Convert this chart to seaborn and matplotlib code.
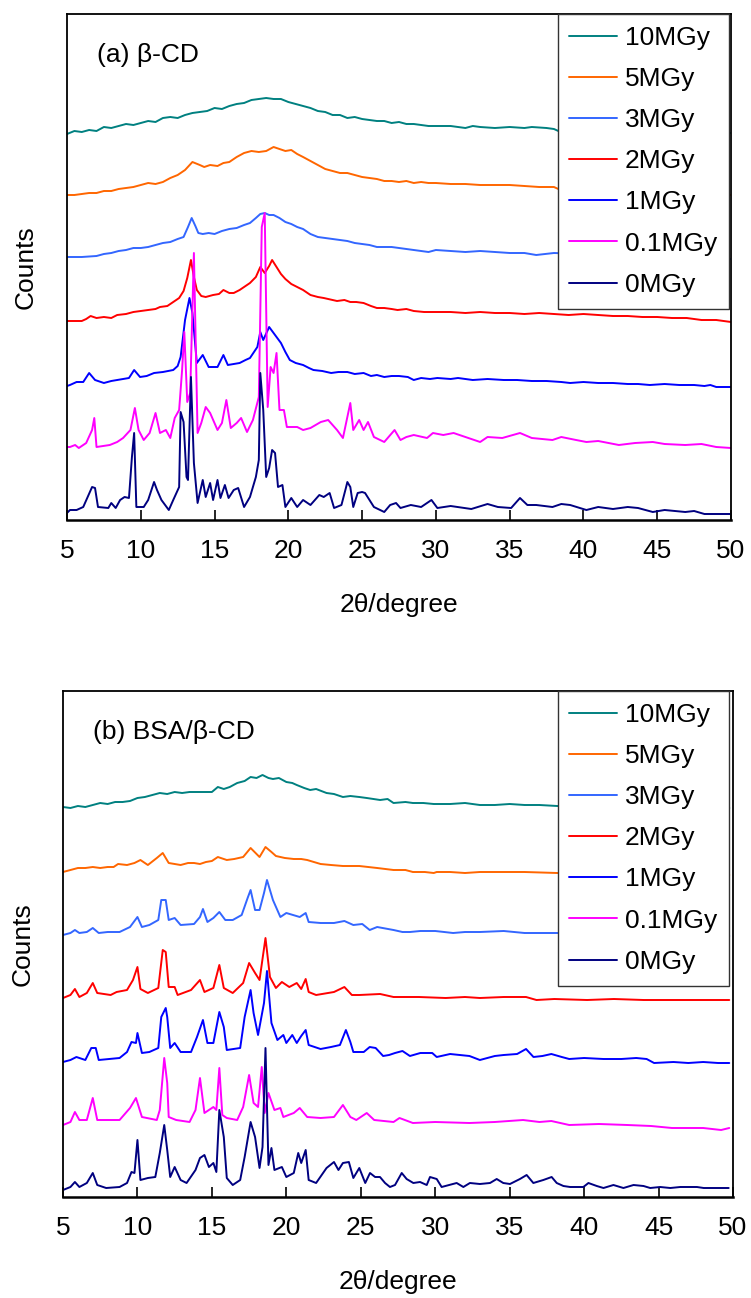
import numpy as np
import pandas as pd
import seaborn as sns
import matplotlib.pyplot as plt

sns.set_style('white')
plt.rcParams['font.family'] = ['Liberation Sans', 'DejaVu Sans']
plt.rcParams['text.color'] = 'black'
plt.rcParams['axes.labelcolor'] = 'black'
plt.rcParams['xtick.color'] = 'black'

doses = ['10MGy', '5MGy', '3MGy', '2MGy', '1MGy', '0.1MGy', '0MGy']
colors = ['#008080', '#FF6600', '#3366FF', '#FF0000', '#0000FF', '#FF00FF', '#000080']

# stacking offsets (same units as counts)
offsets_a = [385, 322, 258, 196, 132, 70, 5]
offsets_b = [388, 322, 258, 196, 132, 66, 5]

# ---- (a) beta-CD : (2theta, counts) ----
a_10 = [(5.0,1),(5.5,4),(6.0,3),(6.5,5),(7.0,4),(7.5,8),(8.0,7),(8.5,9),(9.0,11),(9.5,10),(10.0,12),(10.5,14),(11.0,13),(11.5,17),(12.0,18),(12.5,17),(13.0,20),(13.5,22),(14.0,23),(14.5,24),(15.0,27),(15.5,26),(16.0,29),(16.5,31),(17.0,32),(17.5,35),(18.0,36),(18.5,37),(19.0,36),(19.5,36),(20.0,33),(20.5,31),(21.0,29),(21.5,27),(22.0,24),(22.5,23),(23.0,20),(23.5,20),(24.0,17),(24.5,18),(25.0,16),(25.5,15),(26.0,14),(26.5,14),(27.0,12),(27.5,13),(28.0,11),(28.5,11),(29.0,10),(29.5,9),(30.0,9),(31.0,9),(32.0,7),(32.5,9),(33.0,8),(34.0,7),(35.0,8),(36.0,7),(36.5,8),(37.5,7),(38.0,6),(38.3,4),(38.6,6),(40.0,5),(42.0,4),(44.0,3),(46.0,3),(48.0,2),(50.0,2)]
a_5 = [(5.0,3),(5.5,3),(6.0,4),(6.5,5),(7.0,5),(7.5,7),(8.0,7),(8.5,9),(9.0,10),(9.5,11),(10.0,13),(10.5,15),(11.0,14),(11.5,16),(12.0,20),(12.5,23),(13.0,28),(13.5,36),(14.0,33),(14.3,31),(14.7,33),(15.2,32),(15.6,35),(16.0,36),(16.5,41),(17.0,45),(17.5,47),(18.0,46),(18.5,47),(19.0,51),(19.4,49),(19.8,47),(20.2,48),(20.6,44),(21.0,41),(21.5,37),(22.0,33),(22.5,29),(23.0,27),(23.5,25),(24.0,25),(24.5,23),(25.0,21),(25.5,20),(26.0,19),(26.5,17),(27.0,17),(27.5,16),(28.0,17),(28.5,15),(29.0,16),(29.5,15),(30.0,15),(31.0,14),(32.0,14),(33.0,13),(34.0,13),(35.0,13),(36.0,12),(37.0,11),(38.0,11),(38.3,9),(40.0,9),(42.0,8),(44.0,7),(46.0,6),(48.0,5),(50.0,3)]
a_3 = [(5.0,5),(6.0,5),(7.0,6),(7.5,8),(8.0,9),(8.5,11),(9.0,12),(9.5,14),(10.0,14),(10.5,15),(11.0,17),(11.5,19),(12.0,20),(12.5,23),(12.9,25),(13.2,35),(13.45,44),(13.7,36),(13.9,29),(14.2,28),(14.6,29),(15.0,28),(15.5,31),(16.0,33),(16.5,34),(17.0,37),(17.4,39),(17.8,44),(18.1,48),(18.4,49),(18.7,47),(19.0,47),(19.4,44),(19.8,40),(20.2,38),(20.6,35),(21.0,33),(21.5,28),(22.0,25),(22.5,24),(23.0,23),(23.5,22),(24.0,21),(24.5,19),(25.0,18),(25.5,17),(26.0,15),(26.5,15),(27.0,15),(27.5,14),(28.0,13),(28.5,12),(29.0,11),(29.5,10),(30.0,12),(31.0,11),(32.0,10),(33.0,11),(34.0,10),(35.0,9),(36.0,9),(36.8,7),(38.0,9),(40.0,8),(42.0,7),(44.0,6),(46.0,5),(48.0,4),(50.0,3)]
a_2 = [(5.0,3),(6.0,3),(6.3,5),(6.6,8),(7.0,6),(7.5,7),(8.0,6),(8.4,9),(9.0,10),(9.5,12),(10.0,13),(10.5,14),(11.0,15),(11.3,17),(11.8,18),(12.2,22),(12.6,26),(12.9,33),(13.15,46),(13.4,64),(13.6,47),(13.8,34),(14.1,28),(14.4,27),(14.9,29),(15.3,30),(15.6,34),(16.0,31),(16.3,31),(16.7,34),(17.0,37),(17.4,41),(17.8,47),(18.1,57),(18.4,51),(18.7,58),(18.9,64),(19.2,57),(19.5,50),(19.8,45),(20.2,40),(20.6,37),(21.0,34),(21.5,29),(22.0,27),(22.4,26),(23.0,24),(23.3,23),(23.8,24),(24.2,22),(24.6,22),(25.1,21),(25.6,18),(26.0,16),(26.5,16),(27.0,15),(27.4,14),(28.0,15),(28.5,13),(29.2,12),(30.0,12),(31.0,12),(32.0,11),(33.0,12),(34.0,11),(35.0,11),(36.0,10),(37.0,11),(38.0,10),(39.0,9),(40.0,10),(41.0,9),(42.0,8),(43.0,8),(44.0,7),(45.0,7),(46.0,6),(47.0,6),(48.0,4),(49.0,4),(50.0,2)]
a_1 = [(5.0,2),(5.2,3),(5.65,6),(6.1,6),(6.5,15),(6.9,8),(7.5,5),(8.0,7),(8.4,8),(9.2,10),(9.55,18),(9.95,11),(10.4,12),(10.9,15),(11.5,16),(12.2,18),(12.5,22),(12.7,31),(13.0,68),(13.3,90),(13.5,75),(13.8,25),(14.2,33),(14.6,21),(15.2,21),(15.6,33),(15.9,23),(16.3,24),(16.7,25),(17.1,28),(17.4,30),(17.9,41),(18.1,56),(18.3,48),(18.7,61),(19.0,55),(19.5,45),(19.8,36),(20.1,28),(20.5,25),(21.0,23),(21.4,20),(21.7,18),(22.3,17),(22.9,15),(23.4,16),(24.0,16),(24.5,14),(25.1,15),(25.6,12),(26.0,13),(26.5,11),(27.0,12),(27.5,12),(28.1,11),(28.5,8),(29.0,10),(29.6,9),(30.1,10),(31.0,9),(31.5,10),(32.5,8),(33.5,9),(34.6,8),(35.5,8),(36.5,7),(37.5,7),(38.5,6),(39.1,5),(40.0,6),(41.0,5),(42.0,5),(43.0,4),(43.7,4),(44.5,3),(45.5,4),(46.5,3),(47.5,3),(48.2,2),(48.6,3),(49.0,1),(50.0,1)]
a_01 = [(5.0,3),(5.2,3),(5.55,5),(5.8,2),(6.3,7),(6.7,20),(6.85,32),(7.0,3),(7.9,5),(8.4,8),(8.8,12),(9.3,20),(9.6,42),(9.85,20),(10.2,10),(10.6,17),(11.0,37),(11.3,17),(11.7,20),(12.0,12),(12.3,32),(12.6,40),(12.8,80),(12.95,118),(13.15,48),(13.35,57),(13.6,197),(13.75,87),(13.85,17),(14.1,27),(14.4,43),(14.7,37),(15.2,20),(15.5,27),(15.8,50),(16.1,22),(16.5,27),(16.8,32),(17.2,18),(17.6,30),(18.0,53),(18.2,223),(18.4,237),(18.6,43),(18.8,83),(19.0,77),(19.2,97),(19.4,40),(19.7,40),(19.9,23),(20.6,23),(21.0,20),(21.5,22),(22.2,28),(22.7,30),(23.3,20),(23.7,12),(24.2,47),(24.4,20),(24.8,30),(25.1,20),(25.4,28),(25.8,13),(26.5,8),(27.2,20),(27.6,10),(28.0,13),(28.5,15),(29.4,12),(29.8,17),(30.5,15),(31.2,17),(32.0,13),(33.0,8),(33.5,13),(34.5,12),(35.7,17),(36.5,12),(37.9,10),(38.5,13),(39.5,10),(40.2,8),(41.0,9),(42.4,5),(43.5,7),(44.7,8),(45.5,6),(46.9,5),(48.0,6),(49.0,3),(50.0,2)]
a_0 = [(5.0,2),(5.2,5),(5.65,5),(6.1,8),(6.4,18),(6.7,28),(6.9,27),(7.1,8),(7.8,7),(8.0,12),(8.3,7),(8.6,15),(8.9,18),(9.2,17),(9.4,58),(9.55,82),(9.7,8),(10.2,8),(10.5,15),(10.9,33),(11.1,25),(11.4,15),(11.9,5),(12.2,15),(12.6,28),(12.7,103),(12.9,93),(13.1,38),(13.2,35),(13.4,138),(13.6,52),(13.85,12),(14.2,35),(14.4,18),(14.7,32),(14.9,15),(15.2,35),(15.4,17),(15.7,30),(15.95,17),(16.3,25),(16.6,27),(17.0,8),(17.4,18),(17.8,38),(18.0,55),(18.1,142),(18.3,105),(18.5,38),(18.7,47),(18.9,65),(19.1,62),(19.3,28),(19.6,30),(19.8,8),(20.2,17),(20.6,8),(21.0,15),(21.5,10),(22.1,20),(22.4,18),(22.8,22),(23.1,7),(23.6,10),(23.9,27),(24.0,33),(24.2,28),(24.4,8),(24.7,22),(25.0,23),(25.2,22),(25.5,15),(25.8,8),(26.5,3),(26.9,10),(27.3,12),(27.6,7),(28.3,10),(29.0,8),(29.7,15),(30.1,7),(31.0,9),(32.4,6),(33.5,11),(34.2,8),(35.1,7),(35.7,17),(36.2,10),(36.8,10),(37.9,8),(38.5,11),(39.1,10),(40.2,5),(41.0,8),(42.0,6),(43.0,8),(43.7,7),(44.7,3),(45.5,5),(46.9,3),(47.5,4),(48.2,1),(50.0,1)]

# ---- (b) BSA/beta-CD ----
b_10 = [(5.0,2),(5.5,1),(6.0,3),(6.5,2),(7.0,4),(7.5,6),(8.0,5),(8.5,7),(9.0,7),(9.5,8),(10.0,11),(10.5,12),(11.0,14),(11.5,16),(12.0,15),(12.5,17),(13.0,16),(13.5,17),(14.0,17),(14.5,17),(15.0,17),(15.4,22),(15.8,20),(16.2,22),(16.7,26),(17.2,28),(17.6,32),(18.0,31),(18.4,34),(18.8,31),(19.1,30),(19.5,31),(20.0,27),(20.4,26),(20.7,24),(21.2,21),(21.6,19),(22.0,20),(22.7,16),(23.2,15),(23.8,12),(24.3,13),(24.9,12),(25.4,11),(26.3,9),(26.8,10),(27.2,6),(28.0,7),(28.5,6),(29.2,6),(29.9,5),(31.0,5),(32.0,6),(33.0,4),(34.0,4),(35.0,5),(36.0,4),(37.0,4),(38.2,3),(40.0,3),(42.0,2),(44.0,2),(46.0,2),(48.0,1),(49.75,1)]
b_5 = [(5.0,3),(5.5,5),(6.0,7),(6.5,7),(7.0,8),(7.5,7),(8.0,8),(8.4,8),(8.7,11),(9.3,10),(9.8,12),(10.2,15),(10.7,10),(11.3,17),(11.7,22),(12.1,12),(12.5,11),(12.9,10),(13.4,12),(13.8,12),(14.2,11),(14.6,13),(15.0,14),(15.4,18),(16.0,15),(16.5,16),(17.1,18),(17.6,27),(18.2,18),(18.6,28),(19.0,23),(19.3,19),(19.9,17),(20.5,16),(21.0,16),(21.4,15),(22.3,11),(23.0,10),(23.8,9),(24.9,9),(25.5,8),(26.1,7),(27.2,5),(28.0,5),(28.5,3),(29.3,3),(29.9,2),(30.1,3),(31.0,3),(32.0,2),(33.0,3),(34.6,3),(36.0,3),(38.2,2),(40.0,2),(44.0,1),(49.75,0)]
b_3 = [(5.0,4),(5.5,6),(5.8,9),(6.1,6),(6.6,7),(7.0,11),(7.4,6),(8.0,7),(8.8,7),(9.5,12),(10.0,22),(10.3,12),(10.8,14),(11.4,19),(11.6,39),(11.9,39),(12.1,19),(12.5,21),(12.9,14),(13.8,15),(14.2,22),(14.4,30),(14.7,17),(15.1,21),(15.5,27),(15.9,19),(16.4,19),(17.0,24),(17.4,41),(17.6,49),(17.9,29),(18.2,29),(18.5,46),(18.7,59),(19.1,39),(19.6,22),(20.0,26),(20.9,22),(21.3,26),(21.5,17),(22.3,16),(23.2,16),(23.9,18),(24.5,14),(25.1,15),(25.6,9),(26.1,12),(27.2,9),(27.8,7),(28.3,7),(29.0,8),(30.0,8),(31.2,6),(32.0,7),(33.0,7),(34.6,8),(36.0,6),(38.2,6),(40.0,5),(42.0,5),(44.0,4),(46.0,4),(48.0,3),(49.75,3)]
b_2 = [(5.0,3),(5.5,6),(5.8,12),(6.1,4),(6.6,8),(7.0,18),(7.3,8),(8.2,6),(8.6,9),(9.3,11),(9.7,21),(10.0,34),(10.2,12),(10.7,8),(11.4,13),(11.7,51),(11.9,49),(12.1,14),(12.5,14),(12.7,6),(13.6,11),(14.2,21),(14.5,9),(15.1,13),(15.5,36),(15.8,13),(16.4,8),(17.1,18),(17.5,38),(17.9,28),(18.2,21),(18.6,63),(18.9,24),(19.3,13),(19.7,19),(20.2,14),(20.7,18),(21.0,12),(21.3,22),(21.5,9),(22.0,6),(23.2,9),(23.9,14),(24.4,6),(24.9,6),(26.3,7),(27.2,4),(28.3,4),(28.9,4),(30.7,3),(32.0,4),(33.0,3),(34.6,4),(36.1,4),(36.8,1),(38.0,2),(40.2,1),(42.0,2),(44.0,1),(46.0,1),(49.75,1)]
b_1 = [(5.0,3),(5.5,5),(5.9,8),(6.5,5),(6.9,17),(7.2,17),(7.4,5),(8.8,7),(9.3,13),(9.6,23),(9.9,22),(10.0,32),(10.3,12),(10.8,13),(11.4,17),(11.6,48),(11.9,57),(12.0,48),(12.2,17),(12.5,22),(12.9,13),(13.6,13),(14.0,28),(14.4,45),(14.7,22),(15.1,22),(15.5,53),(15.8,38),(16.0,15),(16.9,17),(17.2,48),(17.6,75),(17.8,52),(18.1,30),(18.5,62),(18.7,94),(19.0,42),(19.4,25),(19.8,30),(20.0,22),(20.4,30),(20.7,22),(21.0,29),(21.3,35),(21.5,20),(22.3,16),(23.0,18),(23.6,20),(24.0,35),(24.3,23),(24.5,13),(25.2,13),(25.6,18),(26.0,17),(26.5,9),(26.9,10),(27.3,12),(27.8,14),(28.3,9),(29.0,12),(29.8,12),(30.1,8),(31.0,11),(32.3,9),(33.0,5),(34.0,9),(34.6,10),(35.5,11),(36.1,16),(36.6,8),(37.2,9),(37.8,11),(38.5,8),(39.0,6),(40.0,7),(41.3,6),(42.5,6),(43.5,7),(44.2,6),(44.7,2),(46.0,3),(47.0,2),(48.0,3),(49.0,2),(49.75,2)]
b_01 = [(5.0,6),(5.5,9),(5.8,19),(6.1,11),(6.6,11),(7.0,33),(7.3,11),(8.8,11),(9.5,23),(9.9,33),(10.3,14),(11.3,11),(11.5,21),(11.8,73),(12.0,48),(12.1,14),(12.6,11),(13.5,9),(13.9,21),(14.2,53),(14.5,18),(14.8,21),(15.1,24),(15.3,21),(15.5,63),(15.7,16),(16.0,13),(16.7,11),(17.1,24),(17.5,56),(17.8,28),(18.1,24),(18.35,64),(18.55,18),(18.8,38),(19.2,21),(19.6,23),(19.8,14),(20.5,18),(20.9,23),(21.4,14),(22.3,13),(23.2,14),(23.8,26),(24.3,14),(24.7,11),(25.4,18),(25.9,11),(27.2,9),(27.6,13),(28.5,8),(30.0,9),(32.3,8),(34.0,9),(35.9,11),(37.0,9),(37.8,10),(39.0,6),(41.0,7),(42.9,6),(44.5,5),(45.9,3),(48.0,3),(49.2,1),(49.75,3)]
b_0 = [(5.0,2),(5.5,5),(5.8,10),(6.1,5),(6.6,9),(7.0,19),(7.3,7),(7.9,4),(8.8,5),(9.3,9),(9.6,20),(9.8,19),(10.0,52),(10.2,12),(10.7,14),(11.2,15),(11.5,39),(11.8,67),(12.0,42),(12.2,15),(12.5,25),(12.9,12),(13.3,9),(13.9,22),(14.2,34),(14.5,37),(14.8,25),(15.1,29),(15.3,20),(15.5,82),(15.8,55),(16.0,14),(16.4,7),(16.9,12),(17.2,35),(17.6,70),(17.9,55),(18.2,24),(18.4,45),(18.6,144),(18.8,27),(19.0,44),(19.2,22),(19.7,25),(20.0,15),(20.5,19),(20.8,39),(21.0,29),(21.3,42),(21.5,12),(22.0,9),(22.7,24),(23.2,30),(23.5,22),(23.8,29),(24.2,30),(24.5,14),(24.9,24),(25.3,9),(25.62,19),(25.96,15),(26.29,15),(26.63,9),(26.96,5),(27.3,7),(27.75,19),(28.08,13),(28.53,9),(28.98,10),(29.43,7),(29.65,15),(30.1,13),(30.43,5),(31.44,9),(31.89,5),(32.33,9),(33.0,8),(33.68,9),(34.13,13),(34.57,9),(35.02,8),(35.69,13),(36.14,17),(36.59,9),(37.26,12),(37.82,15),(38.16,9),(38.61,6),(39.06,5),(39.95,5),(40.29,9),(40.85,6),(41.3,4),(41.97,7),(42.64,4),(43.32,7),(43.99,6),(44.44,4),(45.11,5),(45.79,4),(46.46,5),(47.58,5),(48.03,4),(49.71,4)]

series_a = [a_10, a_5, a_3, a_2, a_1, a_01, a_0]
series_b = [b_10, b_5, b_3, b_2, b_1, b_01, b_0]


def to_frame(series, offsets):
    rows = []
    for name, pts, off in zip(doses, series, offsets):
        for x, y in pts:
            rows.append((x, y + off, name))
    return pd.DataFrame(rows, columns=['2theta', 'counts', 'dose'])


FS = 19

fig = plt.figure(figsize=(7.51, 12.98), dpi=100)
ax_a = fig.add_axes([67/751, 1 - 520/1298, 664/751, 506/1298])
ax_b = fig.add_axes([63/751, 1 - 1197/1298, 670/751, 506/1298])

panels = [(ax_a, series_a, offsets_a, '(a) \u03b2-CD', 0.997, -0.062),
          (ax_b, series_b, offsets_b, '(b) BSA/\u03b2-CD', 0.994, -0.060)]

for ax, series, offsets, title, lx, ylx in panels:
    df = to_frame(series, offsets)
    sns.lineplot(data=df, x='2theta', y='counts', hue='dose', hue_order=doses,
                 palette=colors, estimator=None, sort=False, lw=1.4, ax=ax)
    ax.set_xlim(5, 50)
    ax.set_ylim(0, 506)
    ax.set_xticks(range(5, 51, 5))
    ax.set_yticks([])
    ax.tick_params(axis='x', direction='in', length=7, width=1.2, pad=14,
                   labelsize=FS, bottom=True, colors='black')
    for sp in ax.spines.values():
        sp.set_visible(True)
        sp.set_color('black')
        sp.set_linewidth(1.3)
    ax.spines['bottom'].set_linewidth(1.8)
    ax.set_xlabel('2\u03b8/degree', fontsize=FS)
    ax.set_ylabel('Counts', fontsize=FS)
    ax.xaxis.set_label_coords(0.5, -0.168)
    ax.xaxis.label.set_va('center')
    ax.yaxis.set_label_coords(ylx, 0.5)
    ax.yaxis.label.set_va('center')
    ax.text(0.045, 0.918, title, transform=ax.transAxes, fontsize=FS,
            ha='left', va='center', color='black')
    handles, labels = ax.get_legend_handles_labels()
    leg = ax.legend(handles, labels, loc='upper right', bbox_to_anchor=(lx, 1.0),
                    borderaxespad=0, fontsize=FS, frameon=True, fancybox=False,
                    framealpha=1, edgecolor='#333333', handlelength=1.8,
                    handletextpad=0.3, labelspacing=0.65, borderpad=0.45)
    leg.get_frame().set_linewidth(1.0)
    for t in leg.get_texts():
        t.set_color('black')
    for ln in leg.get_lines():
        ln.set_linewidth(1.4)

fig.savefig('out.png', dpi=100)
